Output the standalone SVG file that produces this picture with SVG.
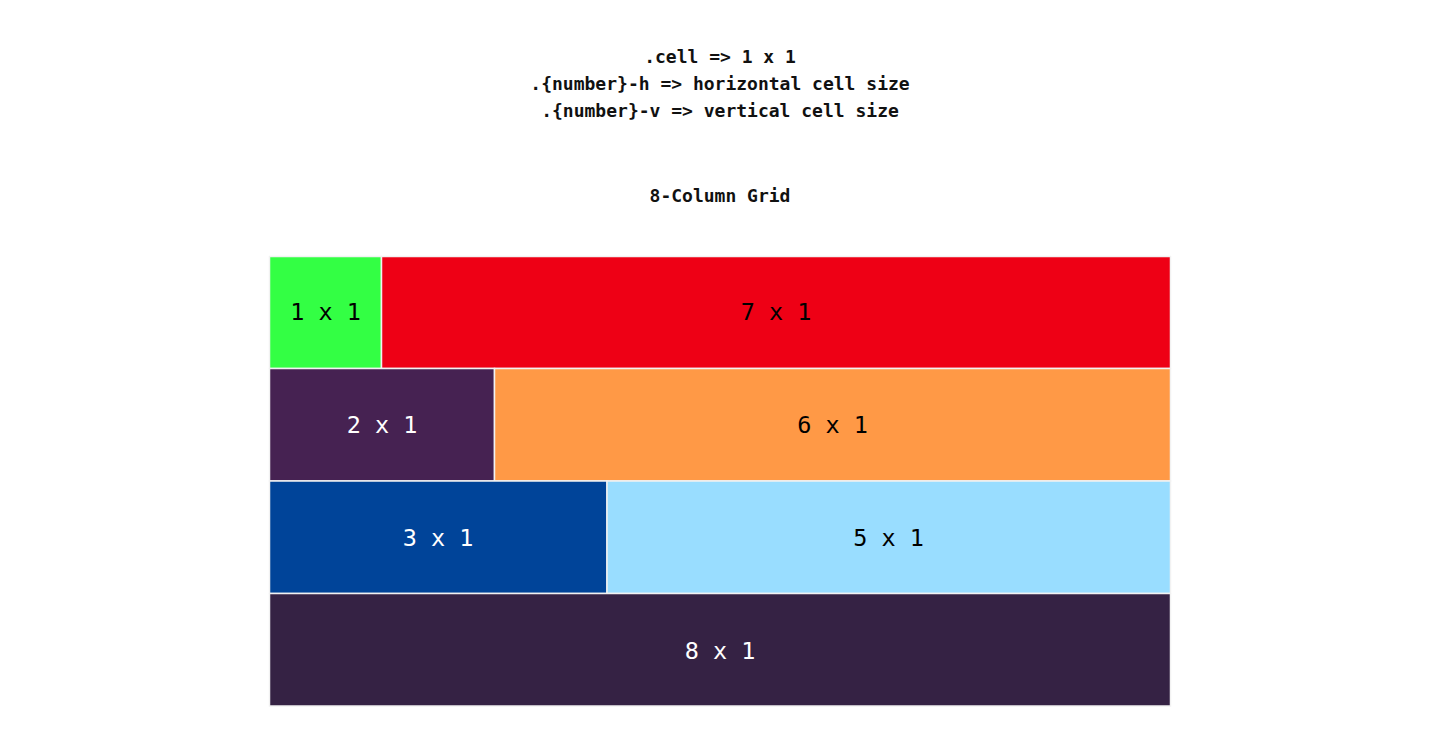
<svg xmlns="http://www.w3.org/2000/svg" width="1440" height="742" viewBox="0 0 1440 742">
<style>
.hd{font-family:"DejaVu Sans Mono","Liberation Mono",monospace;font-size:18px;font-weight:bold;fill:#111;text-anchor:middle}
.cell rect{stroke:#f2f2f2;stroke-width:1.5}
.lb{font-family:"DejaVu Sans Mono","Liberation Mono",monospace;font-size:23.5px;text-anchor:middle}
.dk{fill:#000}
.lt{fill:#fff}
</style>
<rect width="1440" height="742" fill="#fff"/>
<g id="header">
<text class="hd" x="720" y="63">.cell =&gt; 1 x 1</text>
<text class="hd" x="720" y="90">.{number}-h =&gt; horizontal cell size</text>
<text class="hd" x="720" y="117">.{number}-v =&gt; vertical cell size</text>
<text class="hd" x="720" y="202">8-Column Grid</text>
</g>
<g id="c1x1" class="cell"><rect x="269.5" y="256.5" width="112" height="112" fill="#33ff44"/><text class="lb dk" x="325.5" y="320">1 x 1</text></g>
<g id="c7x1" class="cell"><rect x="381.5" y="256.5" width="789" height="112" fill="#ee0015"/><text class="lb dk" x="776" y="320">7 x 1</text></g>
<g id="c2x1" class="cell"><rect x="269.5" y="368.5" width="225" height="112.5" fill="#462252"/><text class="lb lt" x="382" y="433">2 x 1</text></g>
<g id="c6x1" class="cell"><rect x="494.5" y="368.5" width="676" height="112.5" fill="#ff9946"/><text class="lb dk" x="832.5" y="433">6 x 1</text></g>
<g id="c3x1" class="cell"><rect x="269.5" y="481" width="337.5" height="112.5" fill="#004499"/><text class="lb lt" x="438" y="546">3 x 1</text></g>
<g id="c5x1" class="cell"><rect x="607" y="481" width="563.5" height="112.5" fill="#99ddff"/><text class="lb dk" x="888.5" y="546">5 x 1</text></g>
<g id="c8x1" class="cell"><rect x="269.5" y="593.5" width="901" height="112.5" fill="#352244"/><text class="lb lt" x="720" y="659">8 x 1</text></g>
<g id="connectors"/>
</svg>
